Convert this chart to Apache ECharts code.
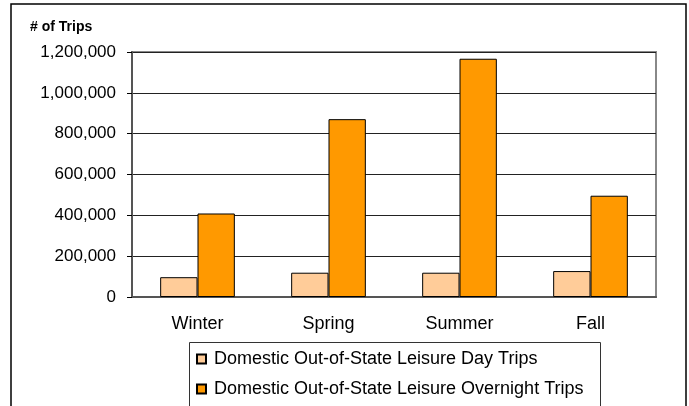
<!DOCTYPE html>
<html>
<head>
<meta charset="utf-8">
<script src="https://cdn.jsdelivr.net/npm/echarts@6/dist/echarts.min.js"></script>
<style>
  html, body { margin: 0; padding: 0; background: #fff; }
  #chart { width: 689px; height: 406px; }
</style>
</head>
<body>
<div id="chart"></div>
<script>
// seasons on the x axis
var seasons = ['Winter', 'Spring', 'Summer', 'Fall']
// trips per season
var dayTrips = [97000, 119000, 119000, 127000]
var overnightTrips = [409000, 871000, 1167000, 496000]
var seriesNames = ['Domestic Out-of-State Leisure Day Trips', 'Domestic Out-of-State Leisure Overnight Trips']

var font = 'Liberation Sans, Arial, sans-serif'
var myChart = echarts.init(document.getElementById('chart'))

var option = {
  animation: false,
  backgroundColor: '#fff',
  title: {
    text: '# of Trips',
    left: 25,
    top: 15,
    textStyle: { fontFamily: font, fontSize: 14, fontWeight: 'bold', color: '#000' }
  },
  graphic: [
    { // outer chart frame
      type: 'rect',
      shape: { x: 11, y: 4, width: 675, height: 430 },
      style: { fill: 'none', stroke: '#000', lineWidth: 1.5 },
      z: -1
    },
    { // legend frame
      type: 'rect',
      shape: { x: 189.5, y: 342.5, width: 411, height: 80 },
      style: { fill: 'none', stroke: '#333', lineWidth: 1 },
      z: -1
    }
  ],
  legend: {
    orient: 'vertical',
    left: 196,
    top: 350,
    padding: 0,
    itemWidth: 9,
    itemHeight: 9,
    itemGap: 12,
    icon: 'rect',
    textStyle: { fontFamily: font, fontSize: 18, color: '#000', padding: [0, 0, 0, 3] },
    data: seriesNames
  },
  grid: {
    left: 132,
    right: 33,
    top: 52,
    bottom: 109,
    show: true,
    borderColor: '#888',
    borderWidth: 2
  },
  xAxis: {
    type: 'category',
    data: seasons,
    axisLine: { lineStyle: { color: '#555', width: 2 } },
    axisTick: { length: 5, lineStyle: { color: '#000' } },
    axisLabel: { margin: 18, fontFamily: font, fontSize: 18, color: '#000' }
  },
  yAxis: {
    type: 'value',
    min: 0,
    max: 1200000,
    interval: 200000,
    axisLine: { show: true, lineStyle: { color: '#555', width: 2 } },
    axisTick: { show: true, length: 5, lineStyle: { color: '#000' } },
    splitLine: { lineStyle: { color: '#222', width: 1 } },
    axisLabel: {
      margin: 16,
      fontFamily: font,
      fontSize: 17,
      color: '#000',
      formatter: function (v) { return v.toLocaleString('en-US') }
    }
  },
  series: [
    {
      name: seriesNames[0],
      type: 'bar',
      data: dayTrips,
      barGap: '0%',
      barCategoryGap: '43%',
      itemStyle: { color: '#FFCC99', borderColor: '#000', borderWidth: 1 }
    },
    {
      name: seriesNames[1],
      type: 'bar',
      data: overnightTrips,
      barGap: '0%',
      barCategoryGap: '43%',
      itemStyle: { color: '#FF9900', borderColor: '#000', borderWidth: 1 }
    }
  ]
}
myChart.setOption(option)
</script>
</body>
</html>
